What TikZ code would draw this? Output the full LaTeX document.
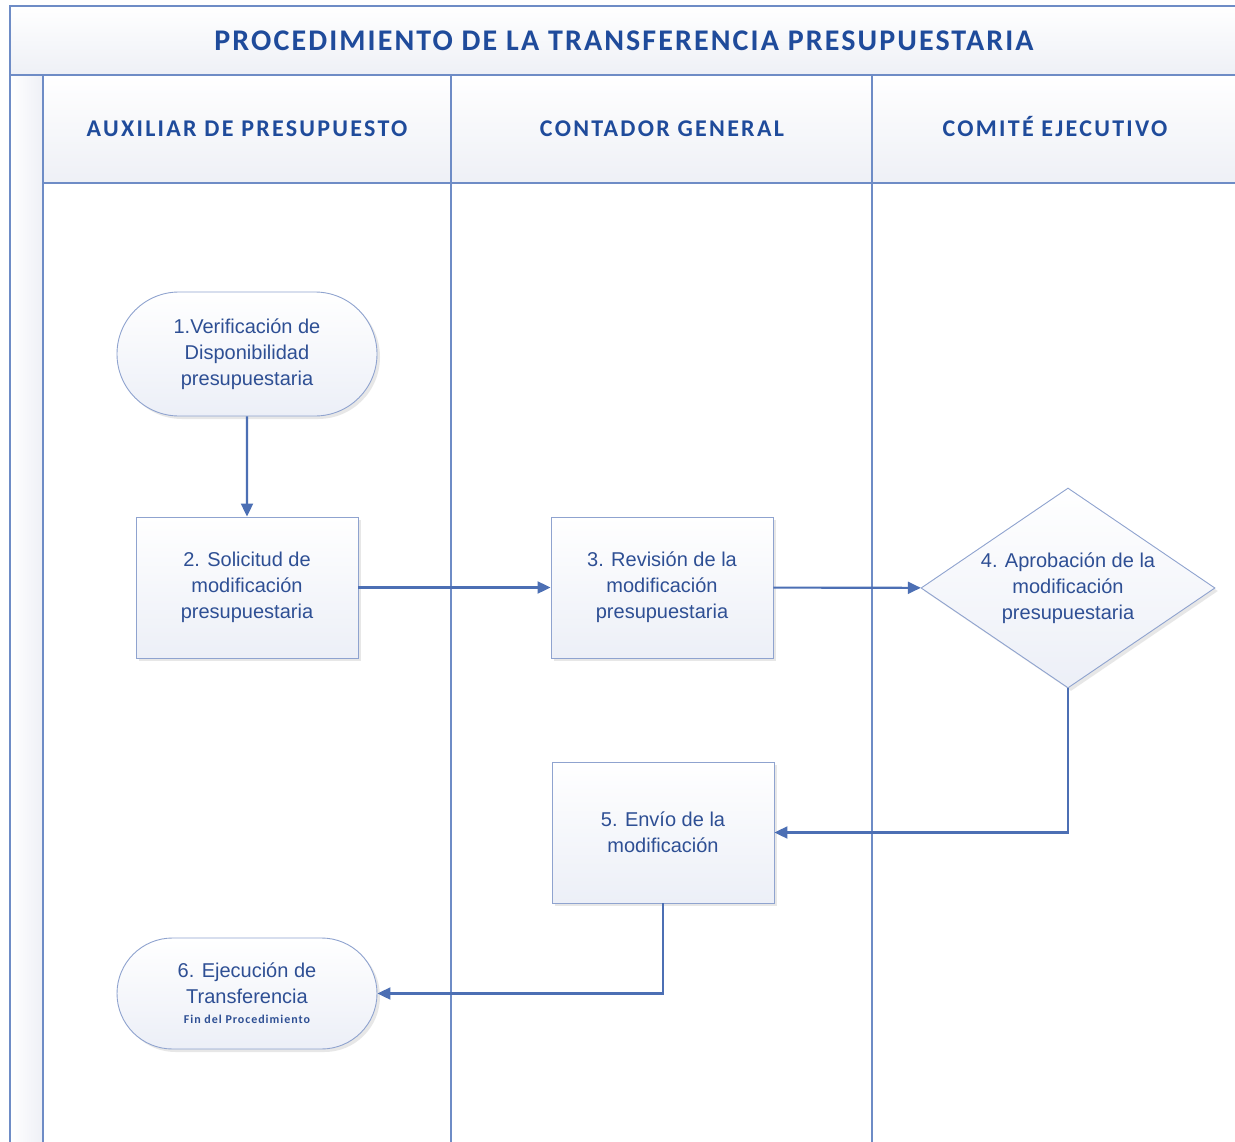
\documentclass[tikz,border=0pt]{standalone}
\usepackage{fontspec}
\setmainfont{Liberation Sans}
\newfontfamily\hdfont{Carlito}
\newfontfamily\titlefont[LetterSpace=7]{Carlito}
\newfontfamily\lanefont[LetterSpace=9.5]{Carlito}
\newfontfamily\smallfont[LetterSpace=8]{Carlito}
\usetikzlibrary{shapes.geometric,shapes.misc,shadows,arrows.meta}
\definecolor{frameblue}{HTML}{6E8CC6}
\definecolor{titleblue}{HTML}{1F4B9B}
\definecolor{txtblue}{HTML}{2E4F94}
\definecolor{nodeborder}{HTML}{8FA3CF}
\definecolor{fillbot}{HTML}{ECEFF7}
\definecolor{arrowblue}{HTML}{4C6FB4}
\definecolor{bandbot}{HTML}{EEF0F6}
\tikzset{
  frame/.style={draw=frameblue, line width=1.8pt},
  band/.style={top color=white, bottom color=bandbot},
  procnode/.style={draw=nodeborder, line width=0.9pt, top color=white, bottom color=fillbot,
    text=txtblue, font=\fontsize{20}{26}\selectfont, align=center,
    drop shadow={shadow xshift=3pt, shadow yshift=-3pt, fill=black!18, opacity=0.5}},
  boxnode/.style={procnode, rectangle, minimum width=222pt, minimum height=141pt, inner sep=0pt},
  termnode/.style={procnode, rounded rectangle, rounded rectangle arc length=180, minimum width=260pt, inner sep=0pt},
  decnode/.style={procnode, diamond, minimum width=294pt, minimum height=200pt, inner sep=0pt, aspect=1.47},
  conn/.style={draw=arrowblue, line width=2.1pt, -{Triangle[length=13pt,width=12pt]}},
  hdtext/.style={text=titleblue, anchor=base, font=\lanefont\bfseries\fontsize{24}{28}\selectfont},
}
\begin{document}
\begin{tikzpicture}[x=1pt,y=-1pt]
\useasboundingbox (0,0) rectangle (1235,1142);
\clip (0,0) rectangle (1235,1142);
\fill[white] (0,0) rectangle (1235,1142);
% bands
\shade[band] (10,6) rectangle (1245,75);
\shade[band] (43,75) rectangle (1245,183);
\shade[left color=white, right color=bandbot] (10,75) rectangle (43,1150);
% frame lines
\draw[frame] (1245,6) -- (10,6) -- (10,1150);
\draw[frame] (10,75) -- (1245,75);
\draw[frame] (43,183) -- (1245,183);
\draw[frame] (43,75) -- (43,1150);
\draw[frame] (451,75) -- (451,1150);
\draw[frame] (872,75) -- (872,1150);
% texts
\node[text=titleblue, anchor=base, font=\titlefont\bfseries\fontsize{30}{34}\selectfont] (title) at (624,51) {PROCEDIMIENTO DE LA TRANSFERENCIA PRESUPUESTARIA};
\node[hdtext] (h1) at (247,137) {AUXILIAR DE PRESUPUESTO};
\node[hdtext] (h2) at (662,137) {CONTADOR GENERAL};
\node[hdtext] (h3) at (1055,137) {COMITÉ EJECUTIVO};
% nodes
\node[termnode, minimum height=124pt] (n1) at (247,354) {1.Verificación de\\Disponibilidad\\presupuestaria};
\node[boxnode] (n2) at (247,587.5) {2. Solicitud de\\modificación\\presupuestaria};
\node[boxnode] (n3) at (662,587.5) {3. Revisión de la\\modificación\\presupuestaria};
\node[decnode] (n4) at (1068,588) {4. Aprobación de la\\modificación\\presupuestaria};
\node[boxnode] (n5) at (663,832.5) {5. Envío de la\\modificación};
\node[termnode, minimum height=111pt] (n6) at (247,993.5) {6. Ejecución de\\Transferencia\\[-6pt]{\smallfont\bfseries\fontsize{12}{14}\selectfont Fin del Procedimiento}};
% connectors
\draw[conn] (n1) -- (n2);
\draw[conn] (n2) -- (n3);
\draw[conn] (n3) -- (n4);
\draw[conn] (n4.south) |- (n5.east);
\draw[conn] (n5.south) |- (n6.east);
\end{tikzpicture}
\end{document}
